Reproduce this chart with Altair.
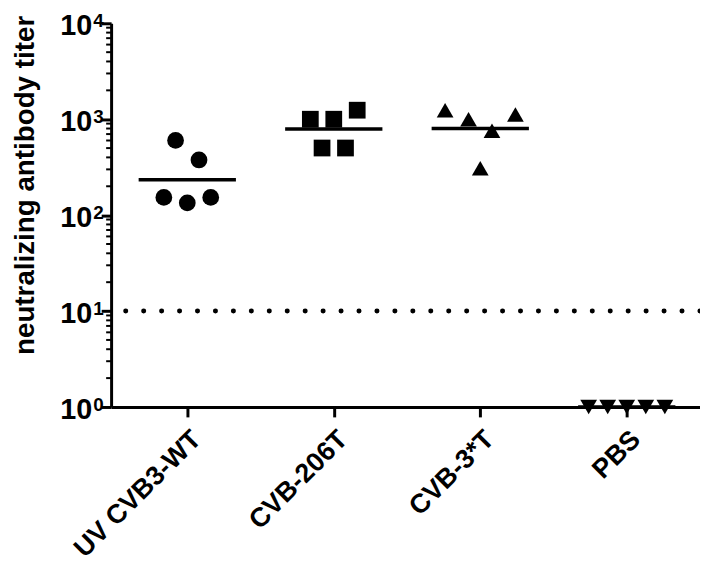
import json
import altair as alt
import pandas as pd

# ---------------- data ----------------
groups = ["UV CVB3-WT", "CVB-206T", "CVB-3*T", "PBS"]
shapes = ["circle", "square", "triangle-up", "triangle-down"]

titer_uv = [153, 601, 134, 376, 153]
titer_206 = [1000, 501, 1000, 501, 1242]
titer_3t = [1242, 1000, 309, 759, 1122]
titer_pbs = [1, 1, 1, 1, 1]

# horizontal scatter of points inside each group (category units)
jitter_uv = [-0.16, -0.08, 0.0, 0.08, 0.16]
jitter_206 = [-0.16, -0.08, 0.0, 0.08, 0.16]
jitter_3t = [-0.24, -0.08, 0.0, 0.08, 0.24]
jitter_pbs = [-0.26, -0.13, 0.0, 0.13, 0.26]

detection_limit = [10]
y_ticks = [1, 10, 100, 1000, 10000]
y_exponents = ["0", "1", "2", "3", "4"]
minor_ticks = [m * 10 ** k for k in range(4) for m in range(2, 10)]

FONT = "Liberation Sans"

rows = []
for gi, (g, ts, js) in enumerate(zip(groups,
                                     [titer_uv, titer_206, titer_3t, titer_pbs],
                                     [jitter_uv, jitter_206, jitter_3t, jitter_pbs])):
    for t, j in zip(ts, js):
        rows.append({"group": g, "gi": gi, "titer": t, "jit": j})
df = pd.DataFrame(rows)

yscale = alt.Scale(type="log", domain=[1, 10000], nice=False)
xscale = alt.Scale(domain=[-0.52, 3.5], nice=False, zero=False)

label_expr = json.dumps(groups) + "[datum.value]"

x_axis = alt.Axis(values=[0, 1, 2, 3], labelExpr=label_expr, labelAngle=-45,
                  labelAlign="right", labelBaseline="top", labelFont=FONT,
                  labelFontSize=27, labelFontWeight="bold", labelColor="black",
                  labelPadding=9, labelOverlap=False, labelFlush=False,
                  tickSize=10, tickWidth=3, tickColor="black",
                  domainWidth=3, domainColor="black", grid=False, title=None)

y_axis = alt.Axis(values=y_ticks, labels=False, tickSize=10, tickWidth=3,
                  tickColor="black", domainColor="black", domainWidth=3,
                  grid=False, title="neutralizing antibody titer",
                  titleFont=FONT, titleFontSize=28, titleFontWeight="bold",
                  titleColor="black", titleX=-78, titleY=163,
                  titleBaseline="alphabetic", titleAngle=270, titleAlign="center")

# dotted detection-limit line
dotted = alt.Chart(pd.DataFrame({"v": detection_limit})).mark_rule(
    strokeDash=[0.1, 18], strokeCap="round", strokeWidth=5, color="black"
).encode(y=alt.Y("v:Q", scale=yscale, axis=y_axis))

# geometric mean lines
means = alt.Chart(df).transform_calculate(
    lt="log(datum.titer)"
).transform_aggregate(
    m="mean(lt)", groupby=["group", "gi"]
).transform_calculate(
    gm="exp(datum.m)", xa="datum.gi - 0.332", xb="datum.gi + 0.332"
).mark_rule(strokeWidth=3.5, color="black").encode(
    x=alt.X("xa:Q", scale=xscale, axis=x_axis),
    x2="xb:Q",
    y=alt.Y("gm:Q", scale=yscale, axis=y_axis),
)

points = alt.Chart(df).transform_calculate(
    xpos="datum.gi + datum.jit"
).mark_point(filled=True, opacity=1, color="black", size=285, strokeWidth=0).encode(
    x=alt.X("xpos:Q", scale=xscale, axis=x_axis),
    y=alt.Y("titer:Q", scale=yscale, axis=y_axis),
    shape=alt.Shape("group:N", scale=alt.Scale(domain=groups, range=shapes), legend=None),
)

minor = alt.Chart(pd.DataFrame({"v": minor_ticks})).mark_rule(
    strokeWidth=2, color="black"
).encode(y=alt.Y("v:Q", scale=yscale, axis=y_axis), x=alt.value(-5), x2=alt.value(0))

lab_df = pd.DataFrame({"v": y_ticks, "e": y_exponents})
base_lab = alt.Chart(lab_df).mark_text(
    align="right", baseline="middle", font=FONT, fontSize=29, fontWeight="bold",
    color="black", dy=3
).encode(y=alt.Y("v:Q", scale=yscale, axis=y_axis), x=alt.value(-19), text=alt.value("10"))

exp_lab = alt.Chart(lab_df).mark_text(
    align="left", baseline="middle", font=FONT, fontSize=19, fontWeight="bold",
    color="black", dy=-2
).encode(y=alt.Y("v:Q", scale=yscale, axis=y_axis), x=alt.value(-18), text="e:N")

chart = alt.layer(dotted, means, minor, points, base_lab, exp_lab).properties(
    width=594, height=387, autosize="none", background="white",
    padding={"left": 104, "top": 13, "right": 0, "bottom": 162},
).configure_view(stroke=None, strokeWidth=0)

chart.save("out.html", embed_options={"renderer": "svg", "actions": False})
